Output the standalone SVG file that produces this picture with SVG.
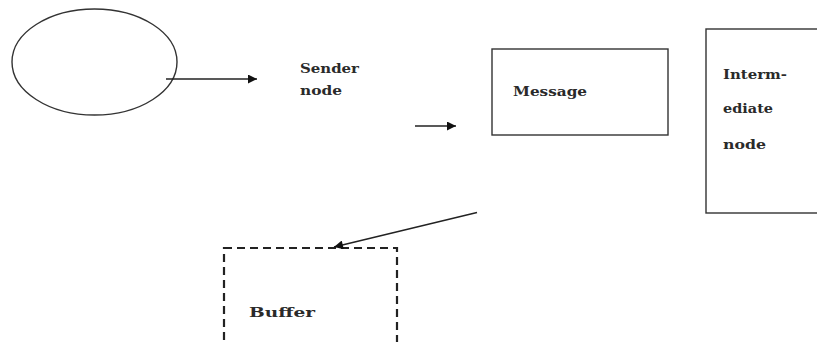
<svg xmlns="http://www.w3.org/2000/svg" width="817" height="342" viewBox="0 0 817 342">
  <style>
    .shape { fill: none; stroke: #333; stroke-width: 1.4; }
    .dashed { fill: none; stroke: #222; stroke-width: 2.2; stroke-dasharray: 8 5; }
    .edge { fill: none; stroke: #222; stroke-width: 1.4; }
    .lbl { font-family: "DejaVu Serif", "Liberation Serif", serif; font-size: 13.5px; font-weight: bold; fill: #2a2a2a; }
  </style>
  <defs>
    <marker id="arrow" viewBox="0 0 10 10" refX="10" refY="5" markerWidth="10" markerHeight="9" markerUnits="userSpaceOnUse" orient="auto">
      <path d="M0,0 L10,5 L0,10 z" fill="#111"/>
    </marker>
  </defs>

  <rect width="817" height="342" fill="#fff"/>

  <g id="source">
    <ellipse class="shape" cx="94.5" cy="62" rx="82.5" ry="53"/>
  </g>

  <g id="sender-label">
    <text class="lbl" x="300" y="73" textLength="59" lengthAdjust="spacingAndGlyphs">Sender</text>
    <text class="lbl" x="300" y="95" textLength="42" lengthAdjust="spacingAndGlyphs">node</text>
  </g>

  <g id="message">
    <rect class="shape" x="492" y="49" width="176" height="86"/>
    <text class="lbl" x="513" y="96" textLength="74" lengthAdjust="spacingAndGlyphs">Message</text>
  </g>

  <g id="intermediate">
    <rect class="shape" x="706" y="29" width="120" height="184"/>
    <text class="lbl" x="723" y="79" textLength="64" lengthAdjust="spacingAndGlyphs">Interm-</text>
    <text class="lbl" x="723" y="113" textLength="50" lengthAdjust="spacingAndGlyphs">ediate</text>
    <text class="lbl" x="723" y="149" textLength="43" lengthAdjust="spacingAndGlyphs">node</text>
  </g>

  <g id="buffer">
    <rect class="dashed" x="224" y="248" width="173" height="120"/>
    <text class="lbl" x="249" y="317" textLength="66" lengthAdjust="spacingAndGlyphs">Buffer</text>
  </g>

  <g id="connectors">
    <line class="edge" x1="166" y1="79" x2="257" y2="79" marker-end="url(#arrow)"/>
    <line class="edge" x1="415" y1="126" x2="456" y2="126" marker-end="url(#arrow)"/>
    <line class="edge" x1="477" y1="212.5" x2="334" y2="247" marker-end="url(#arrow)"/>
  </g>
</svg>
